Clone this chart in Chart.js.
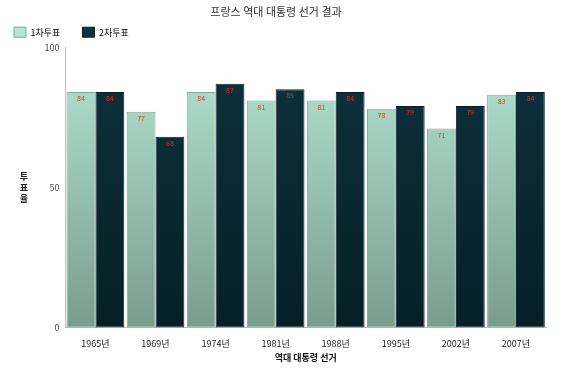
<!DOCTYPE html>
<html><head><meta charset="utf-8">
<script src="https://cdn.jsdelivr.net/npm/chart.js@4/dist/chart.umd.min.js"></script>
<style>html,body{margin:0;padding:0;background:#fff}#wrap{width:567px;height:375px;position:relative}</style>
</head><body><div id="wrap"><canvas id="c" width="567" height="375"></canvas></div>
<script>
const categories = ['1965년','1969년','1974년','1981년','1988년','1995년','2002년','2007년'];
const round1 = [84,77,84,81,81,78,71,83];
const round2 = [84,68,87,85,84,79,79,84];
const seriesNames = ['1차투표','2차투표'];
const yTicks = [0,50,100];
const FONT = "'Noto Sans CJK KR', 'Noto Sans', sans-serif";

function grad(ctx, top, bottom){
  const c = ctx.chart; const a = c.chartArea;
  if(!a) return top;
  const g = c.ctx.createLinearGradient(0,a.top,0,a.bottom);
  g.addColorStop(0,top); g.addColorStop(1,bottom);
  return g;
}

const labelPlugin = {
  id:'labels',
  afterDatasetsDraw(chart){
    const ctx = chart.ctx;
    ctx.save();
    ctx.font = "7px " + FONT;
    ctx.fillStyle = '#ee2b25';
    ctx.textAlign = 'center';
    ctx.textBaseline = 'top';
    chart.data.datasets.forEach((ds,i)=>{
      chart.getDatasetMeta(i).data.forEach((bar,j)=>{
        ctx.fillText(String(ds.data[j]), bar.x, bar.y+3);
      });
    });
    ctx.restore();
  },
  afterDraw(chart){
    const ctx = chart.ctx;
    ctx.save();
    ctx.font = "bold 9px " + FONT;
    ctx.fillStyle = '#222';
    ctx.textAlign = 'center';
    ctx.textBaseline = 'middle';
    const t = '투표율';
    for(let k=0;k<t.length;k++){
      ctx.fillText(t[k], 24, 177 + k*11);
    }
    ctx.restore();
  }
};

new Chart(document.getElementById('c'),{
  type:'bar',
  data:{
    labels:categories,
    datasets:[
      {label:seriesNames[0], data:round1,
       backgroundColor:(ctx)=>grad(ctx,'#b4e6d3','#7a9c8e'),
       borderColor:'#7fa898', borderWidth:1, borderSkipped:false},
      {label:seriesNames[1], data:round2,
       backgroundColor:(ctx)=>grad(ctx,'#0d323d','#061f26'),
       borderColor:'#062028', borderWidth:1, borderSkipped:false}
    ]
  },
  options:{
    responsive:false, animation:false,
    layout:{padding:{left:6,right:21,top:0,bottom:12}},
    datasets:{bar:{categoryPercentage:0.96,barPercentage:1}},
    plugins:{
      title:{display:true,text:'프랑스 역대 대통령 선거 결과',color:'#333',
        font:{family:FONT,size:11,weight:'normal'},padding:{top:5,bottom:1}},
      legend:{display:true,align:'start',
        labels:{boxWidth:12,boxHeight:10,color:'#222',font:{family:FONT,size:9},padding:8,
          generateLabels(chart){
            return [
              {text:seriesNames[0]+'       ',fillStyle:'#b4e6d3',strokeStyle:'#7fa898',lineWidth:1,datasetIndex:0},
              {text:seriesNames[1],fillStyle:'#0d323d',strokeStyle:'#062028',lineWidth:1,datasetIndex:1}
            ];
          }}},
      tooltip:{enabled:false}
    },
    scales:{
      x:{grid:{display:false,drawTicks:true},border:{display:true,color:'#bbb'},
        ticks:{color:'#222',font:{family:FONT,size:9},padding:3},
        title:{display:true,text:'역대 대통령 선거',color:'#111',font:{family:FONT,size:9,weight:'bold'},padding:{top:0,bottom:0}}},
      y:{min:0,max:100,
        afterBuildTicks(axis){axis.ticks = yTicks.map(v=>({value:v}));},
        grid:{display:false,drawTicks:true,tickLength:4,color:'#bbb'},
        border:{display:true,color:'#bbb'},
        ticks:{color:'#444',font:{family:FONT,size:9},padding:2},
        title:{display:true,text:' ',padding:{top:0,bottom:22}}}
    }
  },
  plugins:[labelPlugin]
});
</script></body></html>
